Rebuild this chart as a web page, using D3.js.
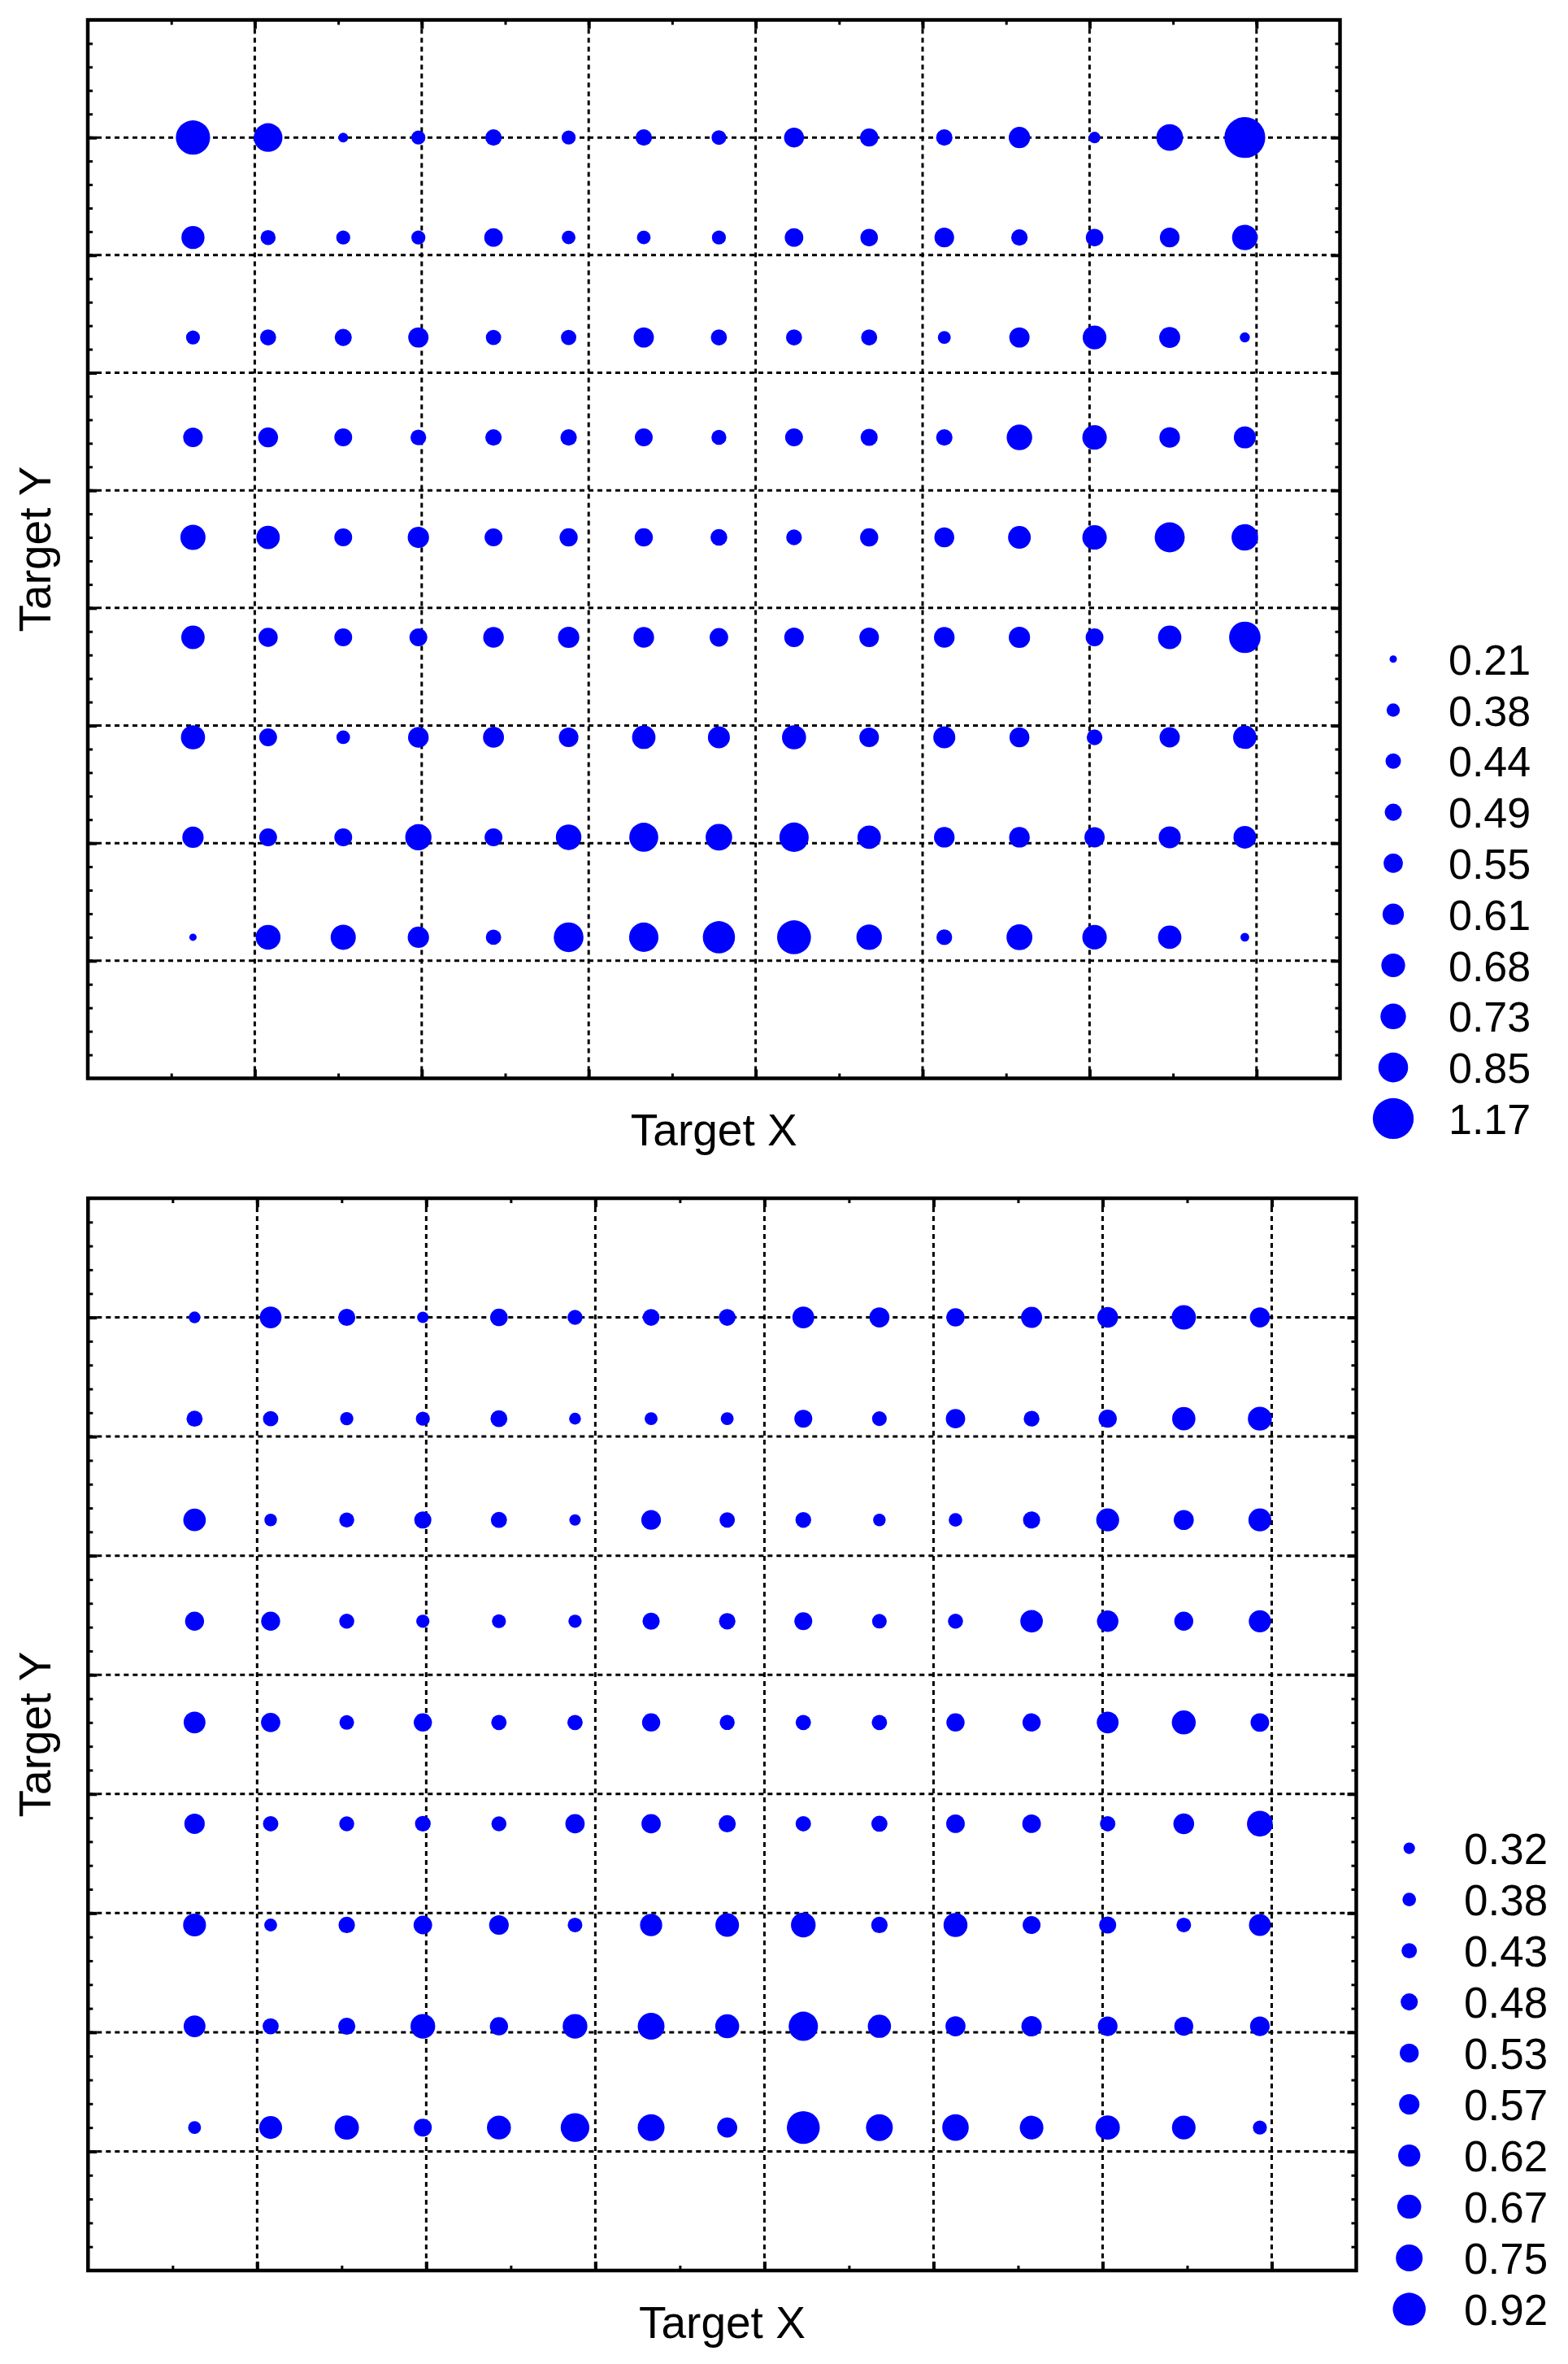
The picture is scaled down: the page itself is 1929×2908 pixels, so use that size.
<!DOCTYPE html>
<html><head><meta charset="utf-8">
<script src="https://cdn.jsdelivr.net/npm/d3@7"></script>
<style>html,body{margin:0;padding:0;background:#fff;} svg{display:block;}</style>
</head><body>
<script>
// ---------- DATA ----------
const xTargets = [12.6, 21.6, 30.6, 39.6, 48.6, 57.6, 66.6, 75.6, 84.6, 93.6, 102.6, 111.6, 120.6, 129.6, 138.6];
const yTargets = [160, 143, 126, 109, 92, 75, 58, 41, 24];

const xMajorTicks = [20, 40, 60, 80, 100, 120, 140];
const xMinorTicks = [10, 30, 50, 70, 90, 110, 130];
const yMajorTicks = [20, 40, 60, 80, 100, 120, 140, 160];
const yMinorTicks = [4, 8, 12, 16, 24, 28, 32, 36, 44, 48, 52, 56, 64, 68, 72, 76, 84, 88, 92, 96,
  104, 108, 112, 116, 124, 128, 132, 136, 144, 148, 152, 156, 164, 168, 172, 176];

// rows follow yTargets (top to bottom), columns follow xTargets
const topValues = [
  [0.98, 0.82, 0.28, 0.40, 0.47, 0.40, 0.47, 0.42, 0.57, 0.52, 0.47, 0.61, 0.33, 0.76, 1.17],
  [0.66, 0.43, 0.40, 0.40, 0.53, 0.39, 0.39, 0.40, 0.53, 0.50, 0.56, 0.47, 0.50, 0.56, 0.73],
  [0.40, 0.46, 0.49, 0.58, 0.44, 0.44, 0.58, 0.46, 0.46, 0.46, 0.37, 0.58, 0.68, 0.60, 0.29],
  [0.56, 0.57, 0.51, 0.45, 0.47, 0.47, 0.51, 0.43, 0.51, 0.49, 0.47, 0.73, 0.70, 0.59, 0.63],
  [0.72, 0.67, 0.51, 0.61, 0.51, 0.52, 0.52, 0.48, 0.45, 0.52, 0.57, 0.65, 0.70, 0.86, 0.76],
  [0.67, 0.55, 0.51, 0.51, 0.59, 0.61, 0.59, 0.53, 0.56, 0.56, 0.59, 0.61, 0.51, 0.67, 0.90],
  [0.69, 0.51, 0.39, 0.59, 0.60, 0.56, 0.67, 0.63, 0.69, 0.56, 0.63, 0.57, 0.45, 0.58, 0.67],
  [0.61, 0.51, 0.51, 0.75, 0.51, 0.73, 0.83, 0.76, 0.84, 0.67, 0.59, 0.59, 0.58, 0.63, 0.65],
  [0.21, 0.71, 0.72, 0.61, 0.44, 0.85, 0.84, 0.92, 0.97, 0.73, 0.45, 0.74, 0.70, 0.67, 0.25]
];
const bottomValues = [
  [0.33, 0.61, 0.48, 0.32, 0.49, 0.42, 0.47, 0.47, 0.61, 0.56, 0.51, 0.59, 0.58, 0.68, 0.56],
  [0.45, 0.43, 0.37, 0.39, 0.47, 0.33, 0.36, 0.36, 0.50, 0.41, 0.54, 0.44, 0.51, 0.65, 0.67],
  [0.63, 0.35, 0.42, 0.48, 0.45, 0.32, 0.55, 0.43, 0.44, 0.35, 0.38, 0.48, 0.64, 0.56, 0.64],
  [0.53, 0.53, 0.42, 0.37, 0.39, 0.37, 0.48, 0.46, 0.50, 0.41, 0.42, 0.63, 0.60, 0.53, 0.62],
  [0.61, 0.54, 0.41, 0.51, 0.43, 0.43, 0.51, 0.42, 0.43, 0.43, 0.51, 0.51, 0.61, 0.67, 0.52],
  [0.57, 0.43, 0.42, 0.44, 0.42, 0.54, 0.54, 0.48, 0.43, 0.45, 0.52, 0.52, 0.43, 0.58, 0.72],
  [0.64, 0.36, 0.46, 0.52, 0.55, 0.41, 0.62, 0.66, 0.69, 0.46, 0.67, 0.50, 0.48, 0.41, 0.61],
  [0.61, 0.45, 0.48, 0.69, 0.51, 0.69, 0.75, 0.67, 0.82, 0.65, 0.56, 0.57, 0.55, 0.53, 0.55],
  [0.36, 0.64, 0.68, 0.50, 0.67, 0.80, 0.75, 0.56, 0.92, 0.75, 0.74, 0.66, 0.68, 0.66, 0.39]
];
const topLegend = [0.21, 0.38, 0.44, 0.49, 0.55, 0.61, 0.68, 0.73, 0.85, 1.17];
const bottomLegend = [0.32, 0.38, 0.43, 0.48, 0.53, 0.57, 0.62, 0.67, 0.75, 0.92];
const xLabel = "Target X";
const yLabel = "Target Y";

// ---------- DRAW ----------
const FONT = "'Liberation Sans', Arial, Helvetica, sans-serif";
const svg = d3.select("body").append("svg").attr("width", 1929).attr("height", 2908);

function panel(cfg) {
  const g = svg.append("g");
  const x = d3.scaleLinear().domain([0, 150]).range([cfg.left, cfg.right]);
  const y = d3.scaleLinear().domain([0, 180]).range([cfg.bottom, cfg.top]);
  const r = d3.scaleLinear().domain([0, 1]).range([0, cfg.rk]);

  // grid
  const grid = g.append("g").attr("stroke", "#000").attr("stroke-width", 3).attr("stroke-dasharray", "6,5");
  grid.selectAll(".vx").data(xMajorTicks).join("line")
    .attr("x1", d => x(d)).attr("x2", d => x(d)).attr("y1", cfg.top).attr("y2", cfg.bottom);
  grid.selectAll(".hy").data(yMajorTicks).join("line")
    .attr("y1", d => y(d)).attr("y2", d => y(d)).attr("x1", cfg.left).attr("x2", cfg.right);

  // axes with inward ticks
  function axes(tickVals, size, width) {
    const defs = [
      [d3.axisTop(x), `translate(0,${cfg.top})`],
      [d3.axisBottom(x), `translate(0,${cfg.bottom})`],
      [d3.axisLeft(y), `translate(${cfg.left},0)`],
      [d3.axisRight(y), `translate(${cfg.right},0)`]
    ];
    defs.forEach(([ax, tr], i) => {
      const vals = i < 2 ? tickVals[0] : tickVals[1];
      const a = g.append("g").attr("transform", tr)
        .call(ax.tickValues(vals).tickSizeInner(-size).tickSizeOuter(0).tickFormat(""));
      a.select(".domain").remove();
      a.selectAll("line").attr("stroke", "#000").attr("stroke-width", width);
    });
  }
  axes([xMinorTicks, yMinorTicks], 6, 3);
  axes([xMajorTicks, yMajorTicks], 11, 4);

  // frame
  g.append("rect").attr("x", cfg.left).attr("y", cfg.top)
    .attr("width", cfg.right - cfg.left).attr("height", cfg.bottom - cfg.top)
    .attr("fill", "none").attr("stroke", "#000").attr("stroke-width", 4.5);

  // dots
  const pts = [];
  cfg.values.forEach((row, j) => row.forEach((v, i) => pts.push({ x: xTargets[i], y: yTargets[j], v })));
  g.append("g").selectAll("circle").data(pts).join("circle")
    .attr("cx", d => x(d.x)).attr("cy", d => y(d.y)).attr("r", d => r(d.v)).attr("fill", "#0000ff");

  // axis titles
  g.append("text").attr("x", (cfg.left + cfg.right) / 2).attr("y", cfg.xLabelY)
    .attr("text-anchor", "middle").attr("font-family", FONT).attr("font-size", 55).text(xLabel);
  g.append("text").attr("transform", `translate(62,${(cfg.top + cfg.bottom) / 2}) rotate(-90)`)
    .attr("text-anchor", "middle").attr("font-family", FONT).attr("font-size", 55).text(yLabel);

  // legend
  const lg = g.append("g");
  const ly = d3.scaleLinear().domain([0, 1]).range([cfg.legY0, cfg.legY0 + cfg.legStep]);
  lg.selectAll("circle").data(cfg.legend).join("circle")
    .attr("cx", cfg.legDotX).attr("cy", (d, i) => ly(i)).attr("r", d => r(d)).attr("fill", "#0000ff");
  lg.selectAll("text").data(cfg.legend).join("text")
    .attr("x", cfg.legTextX).attr("y", (d, i) => ly(i) + 19)
    .attr("font-family", FONT).attr("font-size", cfg.legFont).text(d => d.toFixed(2));
}

panel({ values: topValues, legend: topLegend, left: 108, right: 1648.5, top: 24.5, bottom: 1326.5, rk: 21.5,
  xLabelY: 1409, legDotX: 1714, legTextX: 1782, legY0: 810.7, legStep: 62.8, legFont: 52 });
panel({ values: bottomValues, legend: bottomLegend, left: 108.3, right: 1668.5, top: 1474, bottom: 2793, rk: 22,
  xLabelY: 2876, legDotX: 1733.7, legTextX: 1801, legY0: 2273.6, legStep: 63, legFont: 53 });
</script>
</body></html>
